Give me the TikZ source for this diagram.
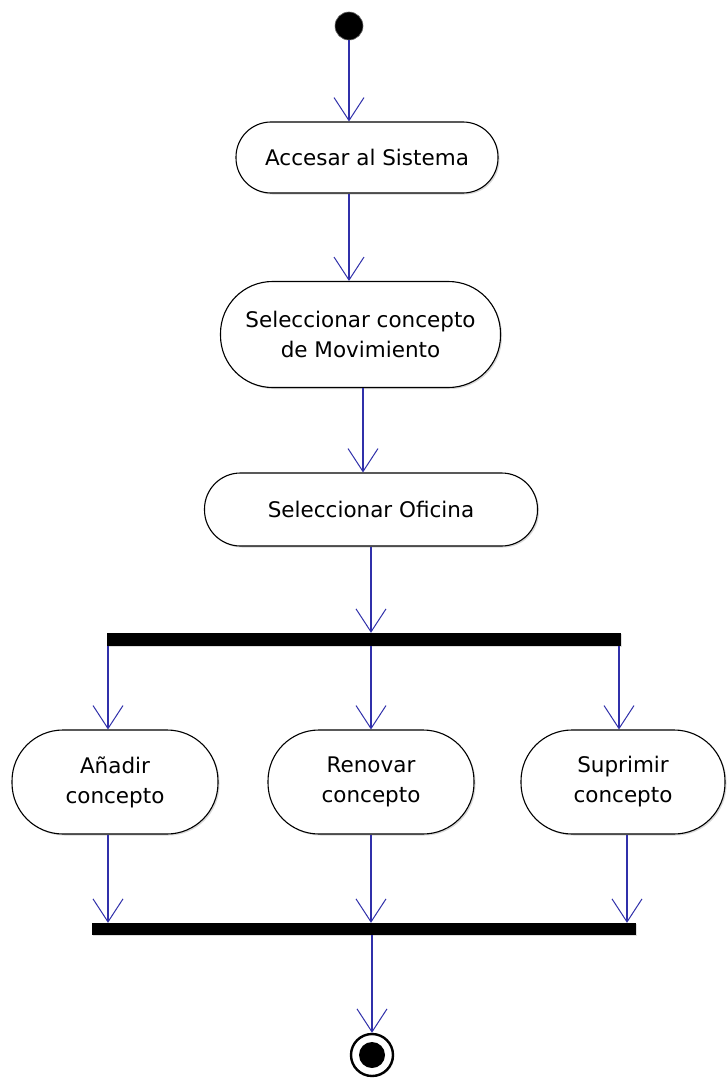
\documentclass[tikz,border=0pt]{standalone}
\usepackage{fontspec}
\setmainfont{DejaVu Sans}
\usetikzlibrary{arrows.meta,shadows}
\definecolor{flowblue}{RGB}{48,48,170}
\begin{document}
\begin{tikzpicture}[x=1pt,y=-1pt,
  flowline/.style={color=flowblue, draw=flowblue, line width=1.1pt,
    -{Straight Barb[length=23pt,width=30pt,line width=1pt]}},
  action/.style={draw=black, line width=1.1pt, fill=white, rounded corners=#1,
    inner sep=0pt, align=center, font=\fontsize{21.5}{30}\selectfont,
    drop shadow={shadow xshift=1.5pt, shadow yshift=-1.5pt, fill=black!30}},
  syncbar/.style={fill=black, draw=none, inner sep=0pt,
    drop shadow={shadow xshift=1.2pt, shadow yshift=-1.2pt, fill=black!25}},
  startnode/.style={circle, fill=black, draw=black!60, line width=0.6pt,
    minimum size=28pt, inner sep=0pt},
  endnode/.style={circle, draw=black, line width=2.4pt, fill=white,
    minimum size=42pt, inner sep=0pt,
    drop shadow={shadow xshift=1.2pt, shadow yshift=-1.2pt, fill=black!25}}
]
\fill[white] (0,0) rectangle (726,1089);
\useasboundingbox (0,0) rectangle (726,1089);

% initial state
\node[startnode] (start) at (349,26) {};

% actions
\node[action=35, minimum width=262pt, minimum height=71pt] (A) at (367,157.5) {Accesar al Sistema};
\node[action=52, minimum width=280pt, minimum height=106pt] (B) at (360.5,334.5) {Seleccionar concepto\\de Movimiento};
\node[action=36, minimum width=333pt, minimum height=73pt] (C) at (371,509.5) {Seleccionar Oficina};

% fork bar
\node[syncbar, minimum width=514pt, minimum height=13pt] (fork) at (364,639.5) {};

% parallel actions
\node[action=51, minimum width=206pt, minimum height=104pt] (D) at (115,782) {Añadir\\concepto};
\node[action=51, minimum width=206pt, minimum height=104pt] (E) at (371,782) {Renovar\\concepto};
\node[action=51, minimum width=204pt, minimum height=104pt] (F) at (623,782) {Suprimir\\concepto};

% join bar
\node[syncbar, minimum width=544pt, minimum height=12pt] (join) at (364,929) {};

% final state
\node[endnode] (stop) at (372,1055) {};
\fill[black] (stop.center) circle (13pt);

% transitions
\draw[flowline] (start) -- (start |- A.north);
\draw[flowline] ([xshift=-18pt]A.south) -- ([xshift=-18pt]A.south |- B.north);
\draw[flowline] ([xshift=2.5pt]B.south) -- ([xshift=2.5pt]B.south |- C.north);
\draw[flowline] (C.south) -- (C.south |- fork.north);

\draw[flowline] ([xshift=-7pt]D.north |- fork.south) -- ([xshift=-7pt]D.north);
\draw[flowline] (E.north |- fork.south) -- (E.north);
\draw[flowline] ([xshift=-4pt]F.north |- fork.south) -- ([xshift=-4pt]F.north);

\draw[flowline] ([xshift=-7pt]D.south) -- ([xshift=-7pt]D.south |- join.north);
\draw[flowline] (E.south) -- (E.south |- join.north);
\draw[flowline] ([xshift=4pt]F.south) -- ([xshift=4pt]F.south |- join.north);

\draw[flowline] (stop |- join.south) -- (stop);
\end{tikzpicture}
\end{document}
